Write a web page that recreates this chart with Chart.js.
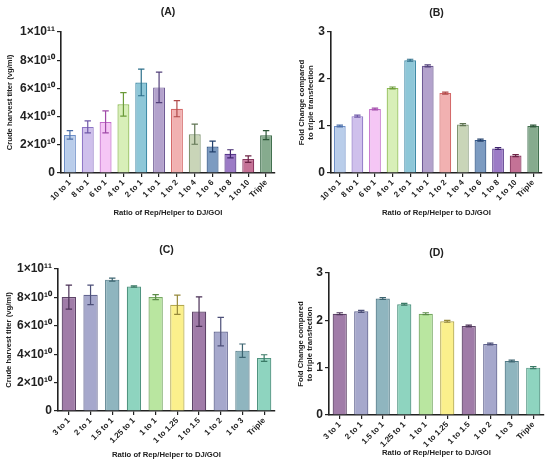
<!DOCTYPE html>
<html>
<head>
<meta charset="utf-8">
<script src="https://cdn.jsdelivr.net/npm/chart.js@4.4.0/dist/chart.umd.min.js"></script>
<style>
html, body { margin: 0; padding: 0; background: #fff; }
#wrap { position: relative; width: 550px; height: 469px; }
.panel { position: absolute; }
</style>
</head>
<body>
<div id="wrap">
  <div class="panel" style="left:0;top:0;width:280px;height:235px"><canvas id="chartA"></canvas></div>
  <div class="panel" style="left:275px;top:0;width:275px;height:235px"><canvas id="chartB"></canvas></div>
  <div class="panel" style="left:0;top:235px;width:280px;height:234px"><canvas id="chartC"></canvas></div>
  <div class="panel" style="left:275px;top:235px;width:275px;height:234px"><canvas id="chartD"></canvas></div>
</div>
<script>
// ratios, first experiment (A, B)
const ratiosAB = ["10 to 1", "8 to 1", "6 to 1", "4 to 1", "2 to 1", "1 to 1", "1 to 2", "1 to 4", "1 to 6", "1 to 8", "1 to 10", "Triple"];
const titerA = [2.70e10, 3.27e10, 3.62e10, 4.87e10, 6.42e10, 6.07e10, 4.56e10, 2.75e10, 1.88e10, 1.36e10, 0.99e10, 2.68e10];
const titerAErr = [0.30e10, 0.43e10, 0.78e10, 0.83e10, 0.94e10, 1.08e10, 0.57e10, 0.71e10, 0.38e10, 0.29e10, 0.23e10, 0.32e10];
const foldB = [1.00, 1.21, 1.36, 1.81, 2.40, 2.28, 1.70, 1.03, 0.70, 0.52, 0.37, 1.00];
const foldBErr = [0.02, 0.02, 0.02, 0.02, 0.02, 0.02, 0.02, 0.02, 0.02, 0.02, 0.02, 0.02];

// ratios, second experiment (C, D)
const ratiosCD = ["3 to 1", "2 to 1", "1.5 to 1", "1.25 to 1", "1 to 1", "1 to 1.25", "1 to 1.5", "1 to 2", "1 to 3", "Triple"];
const titerC = [8.02e10, 8.18e10, 9.25e10, 8.77e10, 8.02e10, 7.48e10, 7.00e10, 5.59e10, 4.25e10, 3.73e10];
const titerCErr = [0.85e10, 0.69e10, 0.11e10, 0.05e10, 0.18e10, 0.68e10, 1.04e10, 1.01e10, 0.47e10, 0.23e10];
const foldD = [2.14, 2.19, 2.46, 2.34, 2.14, 1.98, 1.88, 1.50, 1.14, 1.00];
const foldDErr = [0.02, 0.02, 0.02, 0.02, 0.02, 0.02, 0.02, 0.02, 0.02, 0.02];

const fillAB = ["#b9cdea", "#cfc0ec", "#f5c6f5", "#d8efb8", "#8ec7d8", "#b3a2cc", "#f1b1b1", "#c9d5b8", "#7c9bc1", "#9c7bc6", "#c47296", "#86ab8e"];
const lineAB = ["#6d8fc8", "#8e76c6", "#c36bcb", "#8cba50", "#3f8aa6", "#6e5a94", "#d46a6a", "#7f9470", "#35598a", "#5a3a8c", "#8a3760", "#42704f"];
const barsAB = ["#4a6ea8", "#6f58a8", "#a04aa8", "#6a9a38", "#2c6f8a", "#52407a", "#b04a4a", "#5f7452", "#22406c", "#40246e", "#6c2446", "#2c5638"];
const fillCD = ["#a07ca8", "#a6a8cc", "#8fb5bf", "#8ed4bf", "#b9e6a0", "#fbf08c", "#a07ca8", "#a6a8cc", "#8fb5bf", "#8ed4bf"];
const lineCD = ["#5e4468", "#626590", "#507a86", "#4f9480", "#76a862", "#b4a94f", "#5e4468", "#626590", "#507a86", "#4f9480"];
const barsCD = ["#4a3056", "#4c4f78", "#3c6470", "#3a7a66", "#5c8c48", "#96893a", "#4a3056", "#4c4f78", "#3c6470", "#3a7a66"];

const FONT = "'Liberation Sans', Arial, Helvetica, sans-serif";
Chart.defaults.font.family = FONT;
Chart.defaults.color = "#222";

const SUP = "⁰¹²³⁴⁵⁶⁷⁸⁹";
function sci(v) {
    if (v === 0) return "0";
    const exp = Math.floor(Math.log10(v) + 1e-9);
    const m = Math.round(v / Math.pow(10, exp));
    return m + "×10" + String(exp).split("").map(d => SUP[d]).join("");
}

// error bars (mean ± SD) drawn through the y scale
const errorBars = {
    id: "errorBars",
    afterDatasetsDraw(chart) {
        const ctx = chart.ctx;
        const y = chart.scales.y;
        chart.data.datasets.forEach((ds, di) => {
            const meta = chart.getDatasetMeta(di);
            meta.data.forEach((bar, i) => {
                const v = ds.data[i], e = ds.errors[i];
                const top = y.getPixelForValue(v + e);
                const bot = y.getPixelForValue(v - e);
                const cap = 3.2;
                ctx.save();
                ctx.strokeStyle = ds.errColors[i];
                ctx.lineWidth = 1.2;
                ctx.beginPath();
                ctx.moveTo(bar.x, top); ctx.lineTo(bar.x, bot);
                ctx.moveTo(bar.x - cap, top); ctx.lineTo(bar.x + cap, top);
                ctx.moveTo(bar.x - cap, bot); ctx.lineTo(bar.x + cap, bot);
                ctx.stroke();
                ctx.restore();
            });
        });
    }
};

const panelTitle = {
    id: "panelTitle",
    afterDraw(chart, args, opts) {
        const {ctx, chartArea} = chart;
        ctx.save();
        ctx.font = "bold 10.5px " + FONT;
        ctx.fillStyle = "#222";
        ctx.textAlign = "center";
        ctx.textBaseline = "middle";
        ctx.fillText(opts.text, (chartArea.left + chartArea.right) / 2, opts.y);
        ctx.restore();
    }
};

function makeChart(id, p) {
    return new Chart(document.getElementById(id), {
        type: "bar",
        data: {
            labels: p.labels,
            datasets: [{
                data: p.values,
                errors: p.errors,
                errColors: p.errColors,
                backgroundColor: p.fill,
                borderColor: p.line,
                borderWidth: 1.2,
                categoryPercentage: 1,
                barPercentage: p.barPct,
            }],
        },
        options: {
            responsive: true,
            maintainAspectRatio: false,
            animation: false,
            layout: {padding: p.pad},
            plugins: {
                legend: {display: false},
                tooltip: {enabled: false},
                panelTitle: {text: p.title, y: p.titleY},
            },
            scales: {
                x: {
                    grid: {display: true, drawOnChartArea: false, drawTicks: true, tickLength: 4, offset: false, color: "#222", lineWidth: 1.2},
                    border: {display: true, color: "#222", width: 1.6},
                    ticks: {font: {size: 8, weight: "bold"}, color: "#222", minRotation: 45, maxRotation: 45, autoSkip: false, padding: 1},
                    title: {display: true, text: "Ratio of Rep/Helper to DJ/GOI", font: {size: 7.7, weight: "bold"}, color: "#222", padding: {top: 4, bottom: p.xTitlePad}},
                    afterFit: s => { s.height = p.xHeight; },
                },
                y: {
                    min: 0,
                    max: p.max,
                    grid: {display: true, drawOnChartArea: false, drawTicks: true, tickLength: 4, color: "#222", lineWidth: 1.2},
                    border: {display: true, color: "#222", width: 1.6},
                    ticks: {stepSize: p.step, font: {size: 12, weight: "bold"}, color: "#222", padding: 2, callback: p.fmt},
                    title: {display: true, text: p.yTitle, font: {size: 7.7, weight: "bold"}, color: "#222", padding: {top: p.yTitlePad, bottom: 0}},
                    afterFit: s => { s.width = p.yWidth; },
                },
            },
        },
        plugins: [errorBars, panelTitle],
    });
}

const titerTitle = "Crude harvest titer (vg/ml)";
const foldTitle = ["Fold Change compared", "to triple transfection"];

makeChart("chartA", {
    labels: ratiosAB, values: titerA, errors: titerAErr, fill: fillAB, line: lineAB, errColors: barsAB, barPct: 0.67,
    title: "(A)", titleY: 12, pad: {top: 32, right: 5, bottom: 0, left: 0},
    xHeight: 62, xTitlePad: 17, yWidth: 61, yTitlePad: 5.5,
    max: 1e11, step: 2e10, fmt: v => sci(v), yTitle: titerTitle,
});
makeChart("chartB", {
    labels: ratiosAB, values: foldB, errors: foldBErr, fill: fillAB, line: lineAB, errColors: barsAB, barPct: 0.67,
    title: "(B)", titleY: 13, pad: {top: 32, right: 8, bottom: 0, left: 0},
    xHeight: 62, xTitlePad: 17, yWidth: 56, yTitlePad: 22,
    max: 3, step: 1, fmt: v => String(v), yTitle: foldTitle,
});
makeChart("chartC", {
    labels: ratiosCD, values: titerC, errors: titerCErr, fill: fillCD, line: lineCD, errColors: barsCD, barPct: 0.66,
    title: "(C)", titleY: 15, pad: {top: 34, right: 5, bottom: 0, left: 0},
    xHeight: 58, xTitlePad: 9.5, yWidth: 58, yTitlePad: 4.5,
    max: 1e11, step: 2e10, fmt: v => sci(v), yTitle: titerTitle,
});
makeChart("chartD", {
    labels: ratiosCD, values: foldD, errors: foldDErr, fill: fillCD, line: lineCD, errColors: barsCD, barPct: 0.66,
    title: "(D)", titleY: 18, pad: {top: 38, right: 6, bottom: 0, left: 0},
    xHeight: 54, xTitlePad: 11.5, yWidth: 54, yTitlePad: 21.5,
    max: 3, step: 1, fmt: v => String(v), yTitle: foldTitle,
});
</script>
</body>
</html>
